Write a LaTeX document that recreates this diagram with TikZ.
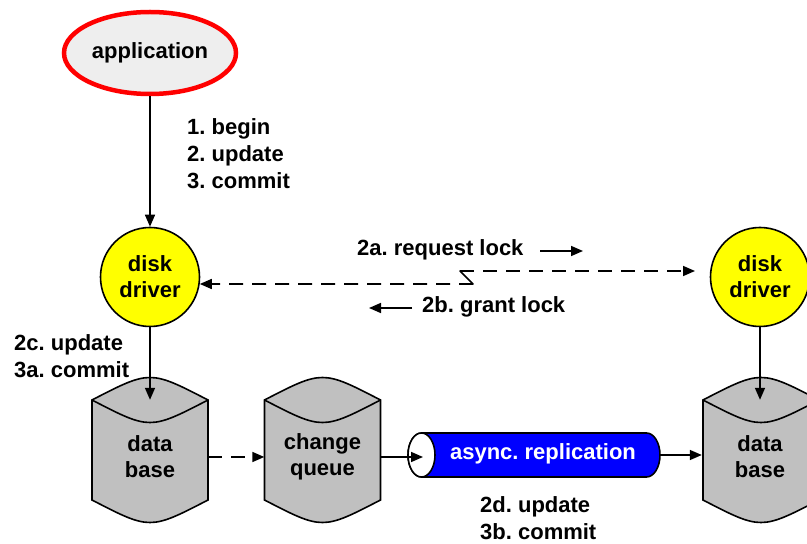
\documentclass[tikz,border=0pt]{standalone}
\usepackage{fontspec}
\setmainfont{Liberation Sans}
\usetikzlibrary{arrows.meta,shapes.geometric}
\definecolor{drvyellow}{HTML}{FFFF00}
\definecolor{cylgray}{HTML}{C0C0C0}
\definecolor{pipeblue}{HTML}{0000FF}
\definecolor{appred}{HTML}{FF0000}
\definecolor{appfill}{HTML}{EEEEEE}
\frenchspacing
\begin{document}
\begin{tikzpicture}[x=1pt,y=1pt,
  lbl/.style={font=\fontsize{22}{27}\selectfont\bfseries, inner sep=0pt, align=left},
  ctxt/.style={font=\fontsize{22}{26}\selectfont\bfseries, inner sep=0pt, align=center},
  tip/.tip={Triangle[length=12pt,width=10pt]},
  arr/.style={line width=1.6pt, -tip},
  dasharr/.style={arr, dash pattern=on 14pt off 9pt},
  drv/.style={circle, draw, line width=1.6pt, fill=drvyellow, minimum size=99pt, ctxt},
  cylbox/.style={minimum width=116pt, minimum height=114pt, ctxt},
  cylshape/.style={draw, line width=1.6pt, fill=cylgray},
  pics/dbcyl/.style={code={
    \path[cylshape] (-58,50) .. controls (0,80) .. (58,50) -- (58,-50) .. controls (0,-80) .. (-58,-50) -- cycle;
    \draw[line width=1.6pt] (-58,50) .. controls (0,20) .. (58,50);
  }}
]
\useasboundingbox (0,0) rectangle (807,544);

% application
\node[ellipse, draw=appred, line width=4.5pt, fill=appfill, minimum width=172pt, minimum height=82pt, ctxt] (app) at (150,491) {application};

% disk drivers
\node[drv] (dd1) at (150,267) {disk\\driver};
\node[drv] (dd2) at (760,267) {disk\\driver};

% cylinders
\pic at (150,94) {dbcyl};
\node[cylbox] (db1) at (150,87) {data\\base};
\pic at (322.5,94) {dbcyl};
\node[cylbox] (cq) at (322.5,87) {change\\queue};
\pic at (761,94) {dbcyl};
\node[cylbox] (db2) at (760,87) {data\\base};

% replication pipe
\draw[line width=1.6pt, fill=pipeblue] (421.5,111) -- (646.5,111)
  arc[start angle=90,end angle=-90,x radius=13.5pt,y radius=22pt] -- (421.5,67)
  arc[start angle=270,end angle=90,x radius=13.5pt,y radius=22pt] -- cycle;
\draw[line width=1.6pt, fill=white] (421.5,89) ellipse [x radius=13.5pt, y radius=22pt];
\node[minimum width=252pt, minimum height=44pt, inner sep=0pt] (pipe) at (534,89) {};
\node[ctxt, text=white] (pipelbl) at (543,90) {async. replication};
\coordinate (cap) at (423,87);

% connectors
\draw[arr] (app) -- (dd1);
\draw[arr] (dd1) -- (db1);
\draw[arr] (dd2) -- (db2);
\draw[dasharr] (db1.east) -- (cq.west);
\draw[arr] (cq.east) -- (cap);
\draw[arr] (pipe.east) -- (pipe.east -| db2.west);

% lock request / grant
\coordinate (zz1) at (473,260);
\coordinate (zz2) at (460,273);
\coordinate (rqend) at (695,273);
\draw[dasharr] (zz1) -- (dd1.-8);
\draw[line width=1.6pt, line cap=round] (zz1) -- (zz2);
\draw[dasharr] (zz2) -- (rqend);

% labels
\node[lbl, anchor=west] (steps) at (187,390.5) {1. begin\\2. update\\3. commit};
\node[lbl, anchor=west] (loc) at (14,187.5) {2c. update\\3a. commit};
\node[lbl, anchor=west] (rem) at (480,25.5) {2d. update\\3b. commit};
\node[lbl, anchor=west] (rq) at (357,294) {2a. request lock};
\node[lbl, anchor=west] (gr) at (422,237) {2b. grant lock};
\coordinate (rqa1) at (540,293);
\coordinate (rqa2) at (583,293);
\coordinate (gra1) at (412,236);
\coordinate (gra2) at (369,236);
\draw[arr] (rqa1) -- (rqa2);
\draw[arr] (gra1) -- (gra2);
\end{tikzpicture}
\end{document}
